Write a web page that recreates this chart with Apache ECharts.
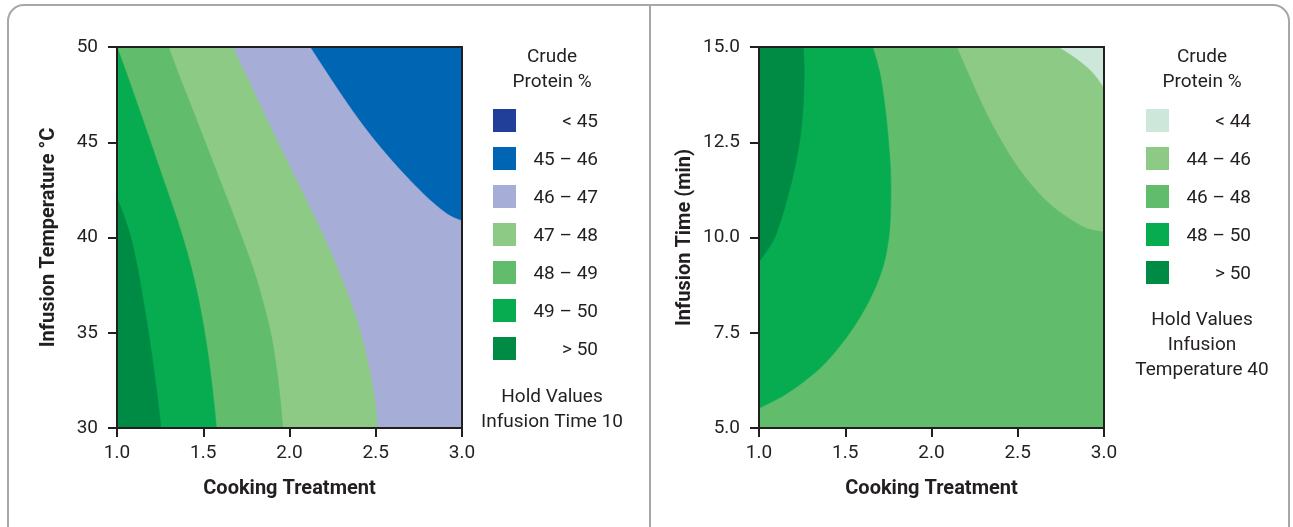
<!DOCTYPE html>
<html>
<head>
<meta charset="utf-8">
<title>Crude Protein contour plots</title>
<script src="https://cdn.jsdelivr.net/npm/echarts@6/dist/echarts.min.js"></script>
<style>
  html, body { margin: 0; padding: 0; background: #ffffff; }
  #main { width: 1293px; height: 527px; }
</style>
</head>
<body>
<div id="main"></div>
<script>
// ---- Axis ranges and tick labels ----
const cookingTicks = [1.0, 1.5, 2.0, 2.5, 3.0];
const tempTicks = [30, 35, 40, 45, 50];
const timeTicks = [5.0, 7.5, 10.0, 12.5, 15.0];

// ---- Legend classes (Crude Protein %) ----
const tempLegendLabels = ['< 45', '45 \u2013 46', '46 \u2013 47', '47 \u2013 48', '48 \u2013 49', '49 \u2013 50', '> 50'];
const timeLegendLabels = ['< 44', '44 \u2013 46', '46 \u2013 48', '48 \u2013 50', '> 50'];

// ---- Contour lines, [Cooking Treatment, Infusion Temperature], hold Infusion Time 10 ----
const temp45_46 = [[2.119, 50], [2.22, 48.59], [2.33, 47.1], [2.45, 45.6], [2.57, 44.28], [2.69, 43.08], [2.81, 42.0], [2.92, 41.2], [3.0, 40.87]];
const temp46_47 = [[1.671, 50], [1.744, 48.6], [1.835, 46.85], [1.928, 45.1], [2.022, 43.35], [2.117, 41.6], [2.196, 40.1], [2.278, 38.4], [2.355, 36.6], [2.415, 34.9], [2.463, 33.1], [2.495, 31.4], [2.51, 30]];
const temp47_48 = [[1.299, 50], [1.356, 48.6], [1.432, 46.85], [1.507, 45.1], [1.582, 43.35], [1.657, 41.6], [1.72, 40.1], [1.788, 38.4], [1.847, 36.6], [1.893, 34.9], [1.925, 33.1], [1.947, 31.4], [1.961, 30]];
const temp48_49 = [[1.0, 50], [1.056, 48.6], [1.124, 46.85], [1.191, 45.1], [1.257, 43.35], [1.324, 41.6], [1.378, 40.1], [1.431, 38.4], [1.476, 36.6], [1.51, 34.9], [1.539, 33.1], [1.561, 31.4], [1.576, 30]];
const temp49_50 = [[1.0, 42.1], [1.045, 41.0], [1.08, 40.0], [1.117, 38.5], [1.152, 36.7], [1.183, 35.0], [1.211, 33.2], [1.236, 31.5], [1.255, 30]];

// ---- Contour lines, [Cooking Treatment, Infusion Time], hold Infusion Temperature 40 ----
const time44 = [[2.735, 15], [2.851, 14.65], [2.938, 14.3], [3.0, 13.91]];
const time46 = [[2.146, 15], [2.213, 14.3], [2.3, 13.43], [2.39, 12.65], [2.515, 11.75], [2.68, 10.9], [2.87, 10.3], [3.0, 10.14]];
const time48 = [[1.659, 15], [1.701, 14.3], [1.73, 13.43], [1.75, 12.55], [1.763, 11.68], [1.763, 10.8], [1.752, 10.0], [1.715, 9.18], [1.635, 8.31], [1.515, 7.43], [1.36, 6.6], [1.17, 5.93], [1.0, 5.52]];
const time50 = [[1.257, 15], [1.262, 14.3], [1.255, 13.4], [1.236, 12.55], [1.2, 11.68], [1.15, 10.8], [1.1, 10.1], [1.06, 9.75], [1.0, 9.36]];

// ---- Palette ----
const tempColors = ['#213f99', '#0066b3', '#a6aed8', '#8dca86', '#61bc6c', '#08ac50', '#008b45'];
const timeColors = ['#cde8da', '#8dca86', '#61bc6c', '#08ac50', '#008b45'];

const FONT = 'Roboto, "Noto Sans", sans-serif';
const INK = '#231f20';

// Filled layers are painted from the lowest class upward; each layer covers
// the side of its contour that holds the higher values, closed along the plot edges.
const tempLayers = [
  { edge: [], corners: ['tl', 'tr', 'br', 'bl'], color: tempColors[1] },
  { edge: temp45_46, corners: ['br', 'bl', 'tl'], color: tempColors[2] },
  { edge: temp46_47, corners: ['bl', 'tl'], color: tempColors[3] },
  { edge: temp47_48, corners: ['bl', 'tl'], color: tempColors[4] },
  { edge: temp48_49, corners: ['bl'], color: tempColors[5] },
  { edge: temp49_50, corners: ['bl'], color: tempColors[6] }
];
const timeLayers = [
  { edge: [], corners: ['tl', 'tr', 'br', 'bl'], color: timeColors[0] },
  { edge: time44, corners: ['br', 'bl', 'tl'], color: timeColors[1] },
  { edge: time46, corners: ['br', 'bl', 'tl'], color: timeColors[2] },
  { edge: time48, corners: ['tl'], color: timeColors[3] },
  { edge: time50, corners: ['tl'], color: timeColors[4] }
];

// Catmull-Rom resampling so contour lines render as smooth curves.
function smoothPath(pts, steps) {
  if (pts.length < 3) return pts.slice();
  const out = [];
  for (let i = 0; i < pts.length - 1; i++) {
    const p0 = pts[Math.max(i - 1, 0)], p1 = pts[i], p2 = pts[i + 1], p3 = pts[Math.min(i + 2, pts.length - 1)];
    for (let s = 0; s < steps; s++) {
      const t = s / steps, t2 = t * t, t3 = t2 * t;
      out.push([0, 1].map(k => 0.5 * ((2 * p1[k]) + (-p0[k] + p2[k]) * t +
        (2 * p0[k] - 5 * p1[k] + 4 * p2[k] - p3[k]) * t2 +
        (-p0[k] + 3 * p1[k] - 3 * p2[k] + p3[k]) * t3)));
    }
  }
  out.push(pts[pts.length - 1]);
  return out;
}

function layerRenderer(layers, xr, yr) {
  const cornerValue = {
    tl: [xr[0], yr[1]], tr: [xr[1], yr[1]],
    br: [xr[1], yr[0]], bl: [xr[0], yr[0]]
  };
  return function (params, api) {
    const layer = layers[params.dataIndex];
    const curve = smoothPath(layer.edge.map(p => api.coord(p)), 12);
    const corners = layer.corners.map(c => api.coord(cornerValue[c]));
    return {
      type: 'polygon',
      silent: true,
      shape: { points: curve.concat(corners) },
      style: { fill: layer.color, stroke: layer.color, lineWidth: 0.6 }
    };
  };
}

function valueAxis(gridIndex, ticks, opts) {
  return Object.assign({
    type: 'value', gridIndex: gridIndex, z: 10,
    min: ticks[0], max: ticks[ticks.length - 1], interval: ticks[1] - ticks[0],
    axisLine: { show: true, onZero: false, lineStyle: { color: INK, width: 2 } },
    axisTick: { show: true, length: 9, lineStyle: { color: INK, width: 2 } },
    splitLine: { show: false },
    nameTextStyle: { fontFamily: FONT, fontWeight: 'bold', fontSize: 20, color: INK }
  }, opts);
}
function labelStyle(decimals, margin) {
  return { fontFamily: FONT, fontSize: 19, color: INK, margin: margin,
           formatter: v => Number(v).toFixed(decimals) };
}
function frameAxis(gridIndex, ticks, position) {
  return {
    type: 'value', gridIndex: gridIndex, position: position, z: 10,
    min: ticks[0], max: ticks[ticks.length - 1],
    axisLine: { show: true, lineStyle: { color: INK, width: 2 } },
    axisTick: { show: false }, axisLabel: { show: false }, splitLine: { show: false }
  };
}

// Legend blocks drawn as graphics
function legendGraphics(cx, swatchX, labelRight, labels, colors, holdLines, holdTop) {
  const els = [];
  ['Crude', 'Protein %'].forEach((t, i) => {
    els.push({ type: 'text', x: cx, y: 57 + i * 25,
      style: { text: t, fill: INK, font: '19px ' + FONT, textAlign: 'center', textVerticalAlign: 'middle' } });
  });
  labels.forEach((t, i) => {
    els.push({ type: 'rect', shape: { x: swatchX, y: 109 + i * 38, width: 23, height: 23 },
      style: { fill: colors[i] } });
    els.push({ type: 'text', x: labelRight, y: 122 + i * 38,
      style: { text: t, fill: INK, font: '19px ' + FONT, textAlign: 'right', textVerticalAlign: 'middle' } });
  });
  holdLines.forEach((t, i) => {
    els.push({ type: 'text', x: cx, y: holdTop + i * 25,
      style: { text: t, fill: INK, font: '19px ' + FONT, textAlign: 'center', textVerticalAlign: 'middle' } });
  });
  return els;
}

const chart = echarts.init(document.getElementById('main'), null, { renderer: 'canvas' });

const cookRange = [cookingTicks[0], cookingTicks[cookingTicks.length - 1]];
const tempRange = [tempTicks[0], tempTicks[tempTicks.length - 1]];
const timeRange = [timeTicks[0], timeTicks[timeTicks.length - 1]];

chart.setOption({
  animation: false,
  backgroundColor: '#ffffff',
  grid: [
    { left: 117, top: 47, width: 345, height: 381 },
    { left: 759, top: 47, width: 345, height: 381 }
  ],
  xAxis: [
    valueAxis(0, cookingTicks, { position: 'bottom', name: 'Cooking Treatment', nameLocation: 'middle', nameGap: 51, axisLabel: labelStyle(1, 16) }),
    valueAxis(1, cookingTicks, { position: 'bottom', name: 'Cooking Treatment', nameLocation: 'middle', nameGap: 51, axisLabel: labelStyle(1, 16) }),
    frameAxis(0, cookingTicks, 'top'),
    frameAxis(1, cookingTicks, 'top')
  ],
  yAxis: [
    valueAxis(0, tempTicks, { position: 'left', name: 'Infusion Temperature \u00b0C', nameLocation: 'middle', nameGap: 58, axisLabel: labelStyle(0, 19) }),
    valueAxis(1, timeTicks, { position: 'left', name: 'Infusion Time (min)', nameLocation: 'middle', nameGap: 64, axisLabel: labelStyle(1, 19) }),
    frameAxis(0, tempTicks, 'right'),
    frameAxis(1, timeTicks, 'right')
  ],
  series: [
    {
      type: 'custom', xAxisIndex: 0, yAxisIndex: 0, z: 2,
      renderItem: layerRenderer(tempLayers, cookRange, tempRange),
      data: tempLayers.map((l, i) => [cookRange[0], tempRange[0], i])
    },
    {
      type: 'custom', xAxisIndex: 1, yAxisIndex: 1, z: 2,
      renderItem: layerRenderer(timeLayers, cookRange, timeRange),
      data: timeLayers.map((l, i) => [cookRange[0], timeRange[0], i])
    }
  ],
  graphic: [
    { type: 'rect', z: -1, shape: { x: 8, y: 5, width: 1281, height: 560, r: 16 },
      style: { fill: 'none', stroke: '#a7a7a9', lineWidth: 2 } },
    { type: 'line', z: -1, shape: { x1: 650, y1: 5, x2: 650, y2: 527 },
      style: { stroke: '#a7a7a9', lineWidth: 2 } }
  ].concat(
    legendGraphics(552, 493, 598, tempLegendLabels, tempColors, ['Hold Values', 'Infusion Time 10'], 397),
    legendGraphics(1202, 1146, 1251, timeLegendLabels, timeColors, ['Hold Values', 'Infusion', 'Temperature 40'], 320)
  )
});
</script>
</body>
</html>
